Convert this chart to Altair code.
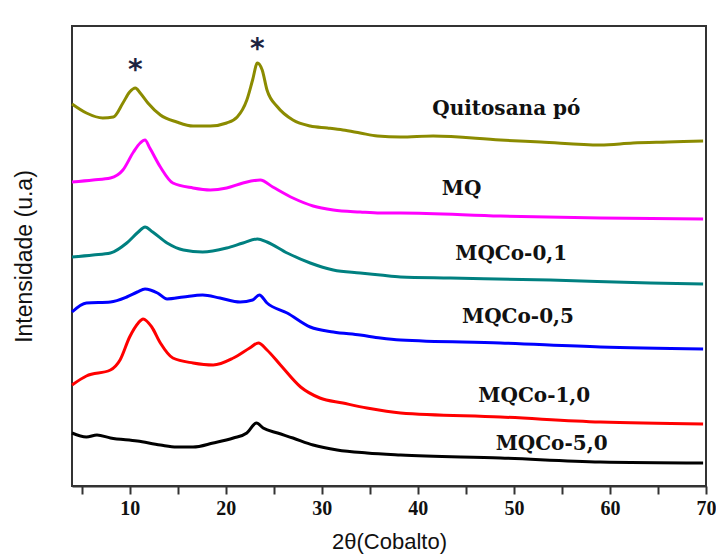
import altair as alt
import pandas as pd

# Difratogramas de raios X (radiação de cobalto), curvas deslocadas na vertical
series_names = ["Quitosana pó", "MQ", "MQCo-0,1", "MQCo-0,5", "MQCo-1,0", "MQCo-5,0"]
series_colors = ["#8b8b00", "#ff00ff", "#008080", "#0000ff", "#ff0000", "#000000"]

quitosana_2t = [4.0, 5.5, 7.2, 8.3, 9.3, 10.0, 10.6, 11.1, 11.9, 13.2, 14.9, 16.6, 18.4, 20.1,
                21.2, 22.2, 22.8, 23.3, 23.8, 24.3, 25.4, 27.0, 28.8, 30.6, 32.2, 34.0, 35.8,
                38.2, 41.6, 48.6, 52.8, 59.0, 62.4, 66.0, 69.7]
quitosana_i = [382, 373, 368, 369, 383, 394, 398, 393, 383, 371, 364, 360, 360, 363,
               369, 386, 406, 423, 416, 396, 379, 366, 360, 358, 356, 353, 350,
               349, 350, 346, 344, 341, 343, 344, 345]

mq_2t = [4.0, 6.2, 8.0, 9.3, 10.4, 11.1, 11.6, 12.1, 13.2, 14.5, 16.6, 18.4, 20.1, 21.8,
         23.6, 24.9, 27.0, 29.1, 31.2, 34.0, 36.1, 38.2, 48.6, 59.0, 69.7]
mq_i = [304, 306, 308, 316, 334, 343, 346, 338, 319, 303, 298, 296, 298, 303,
        306, 299, 288, 280, 276, 274, 273, 273, 270, 268, 267]

mqco01_2t = [4.0, 6.2, 8.0, 9.7, 10.9, 11.6, 12.4, 13.9, 15.6, 17.6, 20.1, 21.8, 23.3, 24.3,
             26.4, 28.8, 31.2, 34.0, 36.1, 38.2, 43.4, 53.8, 64.2, 69.7]
mqco01_i = [229, 231, 233, 243, 254, 259, 254, 243, 236, 234, 238, 243, 247, 244,
            233, 223, 216, 213, 211, 209, 208, 206, 203, 202]

mqco05_2t = [4.0, 5.5, 8.0, 9.7, 10.8, 11.6, 12.9, 13.9, 15.6, 17.6, 19.4, 21.5, 22.8, 23.5,
             24.3, 26.4, 28.8, 31.2, 34.0, 36.1, 38.2, 48.6, 59.0, 69.7]
mqco05_i = [174, 183, 184, 189, 194, 197, 193, 187, 189, 191, 188, 184, 186, 191,
            183, 173, 159, 154, 151, 148, 146, 143, 139, 137]

mqco10_2t = [4.0, 5.5, 8.0, 9.0, 10.0, 10.9, 11.4, 12.3, 13.2, 14.5, 16.6, 18.7, 20.8, 22.5,
             23.4, 24.3, 25.7, 27.8, 29.8, 32.2, 34.7, 38.2, 48.6, 59.0, 69.7]
mqco10_i = [101, 110, 116, 126, 149, 163, 167, 159, 143, 128, 123, 121, 128, 138,
            143, 136, 121, 99, 88, 83, 78, 73, 69, 64, 62]

mqco50_2t = [4.0, 5.5, 6.6, 8.0, 10.8, 13.2, 14.9, 16.6, 18.7, 20.8, 22.2, 23.2, 23.9, 25.4,
             27.0, 29.1, 31.6, 34.7, 38.2, 48.6, 59.0, 69.7]
mqco50_i = [53, 49, 51, 48, 45, 41, 39, 39, 43, 48, 53, 63, 58, 53,
            48, 41, 36, 33, 31, 28, 24, 23]

# Rótulos das amostras (canto esquerdo, linha de base do texto)
label_2t = [41.5, 42.5, 43.9, 44.6, 46.3, 48.1]
label_i = [371, 291, 226, 163, 84, 36]

# Picos cristalinos da quitosana marcados com asterisco
star_2t = [10.6, 23.3]
star_i = [407, 428]

pairs = [(quitosana_2t, quitosana_i), (mq_2t, mq_i), (mqco01_2t, mqco01_i),
         (mqco05_2t, mqco05_i), (mqco10_2t, mqco10_i), (mqco50_2t, mqco50_i)]
rows = []
for name, (xs, ys) in zip(series_names, pairs):
    for x, y in zip(xs, ys):
        rows.append({"amostra": name, "dois_theta": x, "intensidade": y})
df = pd.DataFrame(rows)
labels_df = pd.DataFrame({"amostra": series_names, "dois_theta": label_2t, "intensidade": label_i})
stars_df = pd.DataFrame({"dois_theta": star_2t, "intensidade": star_i, "txt": ["*", "*"]})

x_scale = alt.Scale(domain=[4, 70], nice=False, zero=False)
y_scale = alt.Scale(domain=[0, 460], nice=False, zero=False)
color_scale = alt.Scale(domain=series_names, range=series_colors)

x_axis = alt.Axis(
    title="2θ(Cobalto)", values=list(range(5, 71, 5)),
    labelExpr="datum.value % 10 == 0 ? datum.label : ''",
    grid=False, tickSize=8, tickColor="#333333", tickWidth=2,
    domainColor="#333333", domainWidth=2,
    labelFont="Liberation Serif", labelFontSize=20, labelFontWeight="bold",
    labelColor="#111111", labelPadding=4, labelFlush=False,
    titleFont="Liberation Sans", titleFontSize=22, titleFontWeight="normal",
    titleColor="#111111", titlePadding=13,
)
y_axis = alt.Axis(
    title="Intensidade (u.a)", labels=False, ticks=False, domain=False, grid=False,
    titleFont="Liberation Sans", titleFontSize=23, titleFontWeight="normal",
    titleColor="#111111", titlePadding=36,
)

lines = alt.Chart(df).mark_line(strokeWidth=3, interpolate="monotone").encode(
    x=alt.X("dois_theta:Q", scale=x_scale, axis=x_axis),
    y=alt.Y("intensidade:Q", scale=y_scale, axis=y_axis),
    color=alt.Color("amostra:N", scale=color_scale, legend=None),
    detail="amostra:N",
)

labels = alt.Chart(labels_df).mark_text(
    align="left", baseline="alphabetic", font="DejaVu Serif", fontSize=20,
    fontWeight="bold", color="#111111",
).encode(
    x=alt.X("dois_theta:Q", scale=x_scale),
    y=alt.Y("intensidade:Q", scale=y_scale),
    text="amostra:N",
)

stars = alt.Chart(stars_df).mark_text(
    align="center", baseline="alphabetic", font="DejaVu Sans", fontSize=28,
    fontWeight="bold", color="#1c2340",
).encode(
    x=alt.X("dois_theta:Q", scale=x_scale),
    y=alt.Y("intensidade:Q", scale=y_scale),
    text="txt:N",
)

chart = alt.layer(lines, labels, stars).properties(
    width=634, height=460,
    autosize=alt.AutoSizeParams(type="none"),
    padding={"left": 72, "top": 26, "right": 10, "bottom": 70},
    background="white",
).configure_view(stroke="#333333", strokeWidth=2)

chart.save("out.html", embed_options={"renderer": "svg", "actions": False})
